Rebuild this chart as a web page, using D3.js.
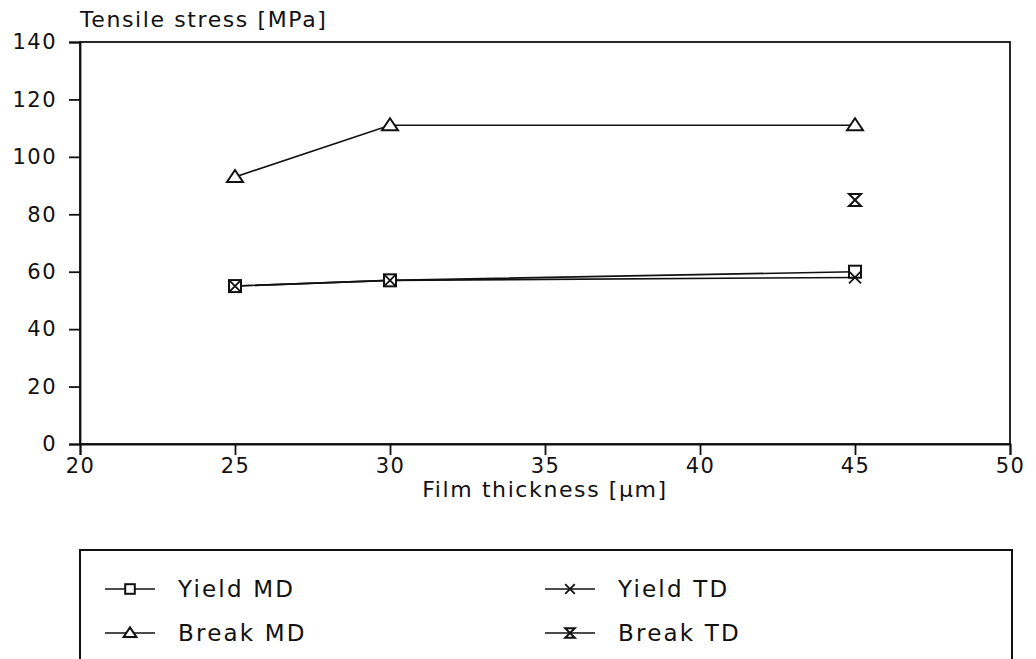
<!DOCTYPE html>
<html><head><meta charset="utf-8">
<script src="https://cdn.jsdelivr.net/npm/d3@7"></script>
<style>body{margin:0;background:#fff}svg{display:block}text{font-family:"DejaVu Sans",sans-serif;fill:#111}</style>
</head><body>
<svg id="c" width="1036" height="659"></svg>
<script>
const thickness = [25, 30, 45];
const yieldMD = [55, 57, 60];
const yieldTD = [55, 57, 58];
const breakMD = [93, 111, 111];
const breakTD = [null, null, 85];
const xTicks = [20, 25, 30, 35, 40, 45, 50];
const yTicks = [0, 20, 40, 60, 80, 100, 120, 140];
const seriesNames = ["Yield MD", "Yield TD", "Break MD", "Break TD"];

const svg = d3.select("#c");
const x = d3.scaleLinear().domain([20, 50]).range([80, 1010]);
const y = d3.scaleLinear().domain([0, 140]).range([444, 42]);
const FONT = '"DejaVu Sans",sans-serif';

// frame
svg.append("rect").attr("x", 80).attr("y", 42).attr("width", 930).attr("height", 402)
  .attr("fill", "none").attr("stroke", "#111").attr("stroke-width", 1.8);

const gx = svg.append("g").attr("transform", "translate(0,444)")
  .call(d3.axisBottom(x).tickValues(xTicks).tickSize(11).tickPadding(3).tickFormat(d3.format("d")));
const gy = svg.append("g").attr("transform", "translate(80,0)")
  .call(d3.axisLeft(y).tickValues(yTicks).tickSize(11).tickPadding(12).tickFormat(d3.format("d")));
[gx, gy].forEach(g => {
  g.select(".domain").attr("stroke", "#111").attr("stroke-width", 1.8);
  g.selectAll(".tick line").attr("stroke", "#111").attr("stroke-width", 1.8);
  g.selectAll(".tick text").attr("font-size", 21).attr("fill", "#111")
    .attr("letter-spacing", 1.5).style("font-family", FONT);
});

svg.append("text").attr("x", 80).attr("y", 27).attr("font-size", 22).attr("letter-spacing", 1.6).text("Tensile stress [MPa]");
svg.append("text").attr("x", 545).attr("y", 497).attr("text-anchor", "middle").attr("font-size", 22).attr("letter-spacing", 1.6).text("Film thickness [μm]");

// markers
function marker(g, type, cx, cy, k) {
  const s = 6 * k;
  const sw = 2;
  if (type === "square") {
    g.append("rect").attr("x", cx - s).attr("y", cy - s).attr("width", 2 * s).attr("height", 2 * s)
      .attr("fill", "#fff").attr("stroke", "#111").attr("stroke-width", sw);
  } else if (type === "x") {
    g.append("path").attr("d", `M${cx - s},${cy - s}L${cx + s},${cy + s}M${cx - s},${cy + s}L${cx + s},${cy - s}`)
      .attr("stroke", "#111").attr("stroke-width", 1.8).attr("fill", "none");
  } else if (type === "triangle") {
    g.append("path").attr("d", `M${cx},${cy - 7 * k}L${cx + 8 * k},${cy + 5 * k}L${cx - 8 * k},${cy + 5 * k}Z`)
      .attr("fill", "#fff").attr("stroke", "#111").attr("stroke-width", sw);
  } else if (type === "hourglass") {
    g.append("path").attr("d", `M${cx - s},${cy - s}L${cx + s},${cy - s}L${cx - s},${cy + s}L${cx + s},${cy + s}Z`)
      .attr("fill", "#fff").attr("stroke", "#111").attr("stroke-width", sw).attr("stroke-linejoin", "miter");
  }
}

const series = [
  { name: seriesNames[0], vals: yieldMD, m: "square" },
  { name: seriesNames[1], vals: yieldTD, m: "x" },
  { name: seriesNames[2], vals: breakMD, m: "triangle" },
  { name: seriesNames[3], vals: breakTD, m: "hourglass" }
];
const line = d3.line().defined(d => d[1] != null).x(d => x(d[0])).y(d => y(d[1]));
const plot = svg.append("g");
series.forEach(s => {
  const pts = thickness.map((t, i) => [t, s.vals[i]]);
  plot.append("path").attr("d", line(pts)).attr("fill", "none").attr("stroke", "#111").attr("stroke-width", 1.6);
});
series.forEach(s => {
  thickness.forEach((t, i) => {
    if (s.vals[i] != null) marker(plot, s.m, x(t), y(s.vals[i]), 1);
  });
});

// legend
svg.append("path").attr("d", "M80,670L80,550L1012,550L1012,670").attr("fill", "none").attr("stroke", "#111").attr("stroke-width", 2);
const legPos = [[105, 589], [545, 589], [105, 633], [545, 633]];
series.forEach((s, i) => {
  const [lx, ly] = legPos[i];
  const g = svg.append("g");
  g.append("line").attr("x1", lx).attr("x2", lx + 50).attr("y1", ly).attr("y2", ly).attr("stroke", "#111").attr("stroke-width", 1.5);
  marker(g, s.m, lx + 25, ly, 0.8);
  g.append("text").attr("x", lx + 73).attr("y", ly + 8).attr("font-size", 23).attr("letter-spacing", 2.2).text(s.name);
});
</script>
</body></html>
